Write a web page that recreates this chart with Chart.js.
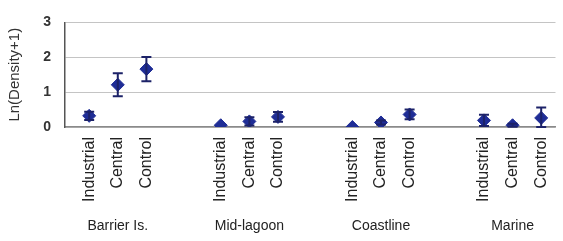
<!DOCTYPE html>
<html>
<head>
  <title>Ln(Density+1) by site</title>
  <script src="https://cdn.jsdelivr.net/npm/chart.js"></script>
  <style>
    body {
      margin: 0;
      background: #fff;
    }
    #wrap {
      width: 563px;
      height: 241px;
    }
  </style>
</head>
<body>
  <div id="wrap"><canvas id="chart" width="563" height="241"></canvas></div>
  <script>
    const groups = ['Barrier Is.', 'Mid-lagoon', 'Coastline', 'Marine'];
    const treatments = ['Industrial', 'Central', 'Control'];
    // means per group, in treatment order
    const means = [
      [0.32, 1.21, 1.66],
      [0.05, 0.16, 0.29],
      [0.00, 0.13, 0.36],
      [0.19, 0.05, 0.26]
    ];
    const errors = [
      [0.12, 0.33, 0.35],
      [0.00, 0.12, 0.14],
      [0.00, 0.06, 0.14],
      [0.16, 0.04, 0.30]
    ];
    const yTicks = [0, 1, 2, 3];

    // horizontal layout of the category slots
    const groupStep = 4.6;
    const pos = (g, i) => g * groupStep + i;

    const points = [];
    const tickPos = [];
    const tickText = [];
    groups.forEach((g, gi) => {
      treatments.forEach((t, ti) => {
        points.push({ x: pos(gi, ti), y: means[gi][ti], err: errors[gi][ti] });
        tickPos.push(pos(gi, ti));
        tickText.push(t);
      });
    });
    const groupPos = groups.map((g, gi) => pos(gi, 1));

    const xMin = -0.845, xMax = 16.30;

    const errorBars = {
      id: 'errorBars',
      afterDatasetsDraw(chart) {
        const ctx = chart.ctx;
        const xs = chart.scales.x, ys = chart.scales.y;
        ctx.save();
        ctx.strokeStyle = '#1c2268';
        ctx.lineWidth = 2;
        points.forEach(p => {
          if (!p.err) return;
          const px = xs.getPixelForValue(p.x);
          const top = ys.getPixelForValue(p.y + p.err);
          const bot = ys.getPixelForValue(Math.max(0, p.y - p.err));
          ctx.beginPath();
          ctx.moveTo(px, top); ctx.lineTo(px, bot);
          ctx.moveTo(px - 5, top); ctx.lineTo(px + 5, top);
          ctx.moveTo(px - 5, bot); ctx.lineTo(px + 5, bot);
          ctx.stroke();
        });
        ctx.restore();
      }
    };

    const noSidePad = s => { s.paddingLeft = 0; s.paddingRight = 0; };

    new Chart(document.getElementById('chart'), {
      type: 'scatter',
      data: {
        datasets: [{
          data: points,
          pointStyle: 'rectRot',
          pointRadius: 6.5,
          pointBackgroundColor: '#1f2d96',
          pointBorderColor: '#1f2d96',
          pointBorderWidth: 1
        }]
      },
      options: {
        responsive: false,
        animation: false,
        events: [],
        layout: { padding: { top: 15, right: 0, left: 0, bottom: 0 } },
        plugins: { legend: { display: false }, tooltip: { enabled: false } },
        scales: {
          x: {
            type: 'linear',
            position: 'bottom',
            min: xMin,
            max: xMax,
            afterBuildTicks: s => { s.ticks = tickPos.map(v => ({ value: v })); },
            afterFit: s => { s.height = 85; noSidePad(s); },
            grid: { display: false, drawTicks: false },
            border: { display: true, color: '#8a8a8a', width: 1.5 },
            ticks: {
              autoSkip: false,
              minRotation: 90,
              maxRotation: 90,
              padding: 10,
              color: '#222',
              font: { family: 'Liberation Sans, Arial', size: 16 },
              callback: (v, i) => tickText[i]
            }
          },
          g: {
            type: 'linear',
            position: 'bottom',
            min: xMin,
            max: xMax,
            afterBuildTicks: s => { s.ticks = groupPos.map(v => ({ value: v })); },
            afterFit: s => { s.height = 29; noSidePad(s); },
            grid: { display: false, drawTicks: false },
            border: { display: false },
            ticks: {
              autoSkip: false,
              maxRotation: 0,
              padding: 6,
              color: '#222',
              font: { family: 'Liberation Sans, Arial', size: 14 },
              callback: (v, i) => groups[i]
            }
          },
          y: {
            min: 0,
            max: 3,
            afterBuildTicks: s => { s.ticks = yTicks.map(v => ({ value: v })); },
            afterFit: s => { s.width = 65; },
            grid: { color: '#c4c4c4', lineWidth: 1, drawTicks: false },
            border: { display: true, color: '#555', width: 1.5 },
            ticks: {
              padding: 14,
              color: '#333',
              font: { family: 'Liberation Sans, Arial', size: 14, weight: 'bold' }
            },
            title: {
              display: true,
              text: 'Ln(Density+1)',
              color: '#333',
              padding: { top: 6, bottom: 0 },
              font: { family: 'Liberation Sans, Arial', size: 15 }
            }
          }
        }
      },
      plugins: [errorBars]
    });
  </script>
</body>
</html>
